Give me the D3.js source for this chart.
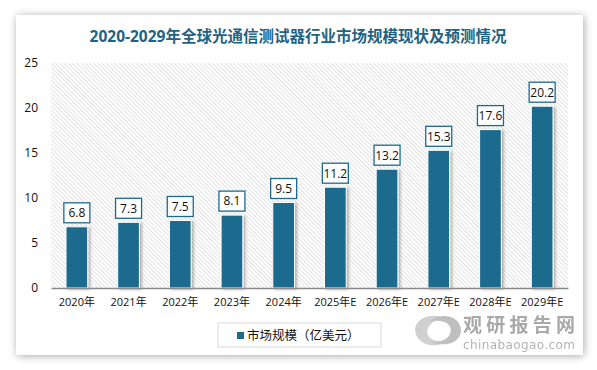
<!DOCTYPE html>
<html>
    <head>
        <meta charset="utf-8">
        <title>全球光通信测试器行业市场规模</title>
        <style>
        html, body{
            margin: 0;
            padding: 0;
            background: #fff;
        }
        svg{
            display: block;
            font-family: "Open Sans", "Noto Sans CJK SC", sans-serif;
        }
        </style>
    </head>
    <body>
        <svg width="597" height="370"></svg>

        <script src="https://cdnjs.cloudflare.com/ajax/libs/d3/7.8.5/d3.min.js"></script>
        <script>
            const years = ["2020年", "2021年", "2022年", "2023年", "2024年", "2025年E", "2026年E", "2027年E", "2028年E", "2029年E"];
            const marketSize = [6.8, 7.3, 7.5, 8.1, 9.5, 11.2, 13.2, 15.3, 17.6, 20.2];
            const yTicks = [0, 5, 10, 15, 20, 25];
            const title = "2020-2029年全球光通信测试器行业市场规模现状及预测情况";
            const seriesName = "市场规模（亿美元）";

            const width = 597;
            const height = 370;
            const margin = {top: 63, left: 51, right: 29, bottom: 82};
            const barColor = "#1c6b8d";

            const svg = d3.select("svg");
            const defs = svg.append("defs");

            // card shadow
            const blur = defs.append("filter").attr("id", "shadow")
                .attr("x", "-10%").attr("y", "-10%").attr("width", "120%").attr("height", "120%");
            blur.append("feGaussianBlur").attr("in", "SourceAlpha").attr("stdDeviation", 4);
            blur.append("feOffset").attr("dx", 1).attr("dy", 1);
            blur.append("feComponentTransfer").append("feFuncA").attr("type", "linear").attr("slope", 0.35);
            const merge = blur.append("feMerge");
            merge.append("feMergeNode");
            merge.append("feMergeNode").attr("in", "SourceGraphic");

            // hatch for plot area
            const hatch = defs.append("pattern").attr("id", "hatch")
                .attr("patternUnits", "userSpaceOnUse")
                .attr("width", 3).attr("height", 3)
                .attr("patternTransform", "rotate(-45)");
            hatch.append("rect").attr("width", 3).attr("height", 3).attr("fill", "#fff");
            hatch.append("line").attr("x1", 0).attr("y1", 0).attr("x2", 0).attr("y2", 3)
                .attr("stroke", "#cfcfcf").attr("stroke-width", 1.2);

            // bar shadow
            const bshadow = defs.append("filter").attr("id", "bshadow")
                .attr("x", "-30%").attr("y", "-10%").attr("width", "160%").attr("height", "120%");
            bshadow.append("feGaussianBlur").attr("in", "SourceAlpha").attr("stdDeviation", 1.5);
            bshadow.append("feOffset").attr("dx", 2).attr("dy", 1);
            bshadow.append("feComponentTransfer").append("feFuncA").attr("type", "linear").attr("slope", 0.3);
            const bm = bshadow.append("feMerge");
            bm.append("feMergeNode");
            bm.append("feMergeNode").attr("in", "SourceGraphic");

            svg.append("rect")
                .attr("x", 16).attr("y", 15)
                .attr("width", 567).attr("height", 340)
                .attr("fill", "#fff")
                .attr("filter", "url(#shadow)");

            svg.append("text")
                .attr("x", 298).attr("y", 42)
                .attr("text-anchor", "middle")
                .attr("font-size", 15.5)
                .attr("font-weight", "bold")
                .attr("fill", "#1f6383")
                .text(title);

            const xScale = d3.scaleBand()
                .domain(years)
                .range([margin.left, width - margin.right])
                .paddingInner(0.58)
                .paddingOuter(0.29);

            const yScale = d3.scaleLinear()
                .domain([0, 25])
                .range([height - margin.bottom, margin.top]);

            svg.append("rect")
                .attr("x", margin.left).attr("y", margin.top)
                .attr("width", width - margin.right - margin.left)
                .attr("height", height - margin.bottom - margin.top)
                .attr("fill", "url(#hatch)");

            // bars
            svg.append("g").selectAll("rect")
                .data(marketSize)
                .join("rect")
                .attr("x", (d, i) => xScale(years[i]))
                .attr("y", d => yScale(d))
                .attr("width", xScale.bandwidth())
                .attr("height", d => yScale(0) - yScale(d))
                .attr("fill", barColor)
                .attr("stroke", "#fff")
                .attr("stroke-width", 1)
                .attr("filter", "url(#bshadow)");

            // value labels
            const labels = svg.append("g").selectAll("g")
                .data(marketSize)
                .join("g")
                .attr("transform", (d, i) => "translate(" + [xScale(years[i]) + xScale.bandwidth() / 2, yScale(d) - 14] + ")");
            labels.append("rect")
                .attr("x", -13).attr("y", -10)
                .attr("width", 26).attr("height", 20)
                .attr("fill", "#fff")
                .attr("stroke", barColor)
                .attr("stroke-width", 1.3);
            labels.append("text")
                .attr("text-anchor", "middle")
                .attr("dy", "0.36em")
                .attr("font-size", 12)
                .attr("fill", "#111")
                .text(d => d.toFixed(1));

            // axes
            const xAxis = d3.axisBottom(xScale).tickSize(0).tickPadding(10);
            const gx = svg.append("g")
                .attr("transform", "translate(" + [0, height - margin.bottom] + ")")
                .call(xAxis);
            gx.select(".domain").attr("stroke", "#8a8a8a").attr("stroke-width", 1.5);
            gx.selectAll("text").attr("font-size", 11).attr("fill", "#111")
                .attr("font-family", "'Open Sans', 'Noto Sans CJK SC', sans-serif");

            const yAxis = d3.axisLeft(yScale).tickValues(yTicks).tickSize(0).tickPadding(13);
            const gy = svg.append("g")
                .attr("transform", "translate(" + [margin.left, 0] + ")")
                .call(yAxis);
            gy.select(".domain").remove();
            gy.selectAll("text").attr("font-size", 12).attr("fill", "#111")
                .attr("font-family", "'Open Sans', sans-serif");

            // legend
            const legend = svg.append("g").attr("transform", "translate(218, 323)");
            legend.append("rect")
                .attr("width", 163).attr("height", 24)
                .attr("fill", "#fff")
                .attr("stroke", "#d9d9d9");
            legend.append("rect")
                .attr("x", 19).attr("y", 9)
                .attr("width", 7).attr("height", 7)
                .attr("fill", barColor);
            legend.append("text")
                .attr("x", 29).attr("y", 17)
                .attr("font-size", 12.5)
                .attr("fill", "#111")
                .attr("font-family", "'Noto Sans CJK SC', sans-serif")
                .text(seriesName);

            // watermark
            const wm = svg.append("g").attr("opacity", 0.85);
            wm.append("path")
                .attr("d", "M446,318 C425,310 408,324 418,338 C424,347 440,348 448,340 C436,344 424,338 428,328 C432,320 442,318 446,318 Z")
                .attr("fill", "#c8c8c8");
            wm.append("path")
                .attr("d", "M432,342 C452,350 468,336 458,322 C452,314 436,314 430,322 C442,318 454,324 450,334 C446,342 436,342 432,342 Z")
                .attr("fill", "#b5b5b5");
            wm.append("text")
                .attr("x", 519).attr("y", 332)
                .attr("text-anchor", "middle")
                .attr("font-size", 19)
                .attr("font-weight", "bold")
                .attr("fill", "#9a9a9a")
                .attr("font-family", "'Noto Sans CJK SC', sans-serif")
                .attr("textLength", 112)
                .text("观研报告网");
            wm.append("text")
                .attr("x", 519).attr("y", 349)
                .attr("text-anchor", "middle")
                .attr("font-size", 12)
                .attr("fill", "#a5a5a5")
                .attr("font-family", "'DejaVu Sans', sans-serif")
                .attr("textLength", 112)
                .text("chinabaogao.com");
        </script>
    </body>
</html>
